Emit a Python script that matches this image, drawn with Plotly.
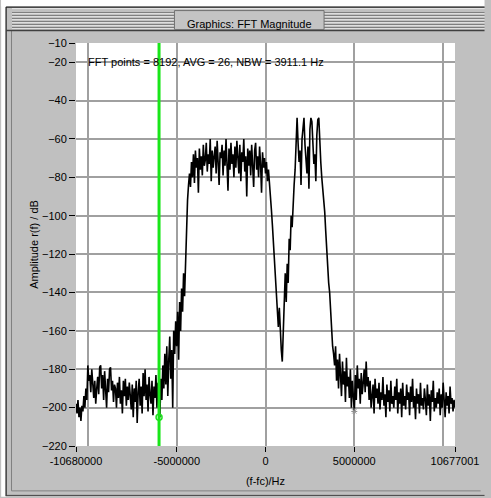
import numpy as np
import plotly.graph_objects as go

# --- data ---
F_MIN = -10680000
F_MAX = 10677001
CURSOR_F = -6000000
CURSOR_DB = -205
MARK_F = 5000000
MARK_DB = -202

floor_left = [-198, -203, -196, -205, -200, -207, -199, -202, -194, -200, -190, -196,
              -178, -186, -183, -192, -180, -189, -195, -186, -198, -190, -184, -193, -179,
              -178, -190, -183, -196, -181, -188, -200, -185, -192, -180, -179, -191, -186, -197, -188,
              -190, -200, -187, -195, -184, -198, -191, -203, -186, -194, -185, -199, -189, -196, -187,
              -193, -201, -188, -205, -190, -197, -186, -208, -192, -185, -199, -189, -203, -182, -194,
              -180, -196, -188, -202, -184, -193, -198, -186, -204, -189, -195, -183, -200, -187, -194,
              -205, -185, -196, -178, -190, -172, -188, -168, -194, -175, -163, -185, -170, -200, -160,
              -172, -155, -168, -150, -175, -145, -160, -138, -150, -130, -142]
rise_left = [-120, -105, -92, -84, -78, -85]
plateau = [-72, -80, -68, -83, -66, -75, -70, -88, -65, -76, -69, -79, -63, -74, -71,
           -62, -77, -68, -73, -60, -82, -66, -75, -69, -64, -78, -61, -72, -84, -67,
           -70, -63, -79, -66, -74, -60, -71, -87, -65, -76, -62, -73, -68, -80, -64,
           -75, -61, -70, -78, -63, -82, -67, -72, -60, -77, -69, -90, -65, -74, -66,
           -79, -63, -71, -85, -66, -62, -76, -69, -80, -64, -73, -88, -67, -75, -70,
           -78, -72, -82, -76, -85]
fall_dip = [-88, -97, -105, -115, -125, -135, -142, -150, -158, -148, -165, -170, -176]
rise_dip = [-160, -152, -130, -145, -125, -135, -112, -118, -100, -106, -92, -84]
peaks = [-76, -58, -49, -62, -72, -66, -84, -60, -52, -49, -63, -70, -78, -64, -86,
         -55, -49, -51, -66, -73, -68, -82, -58, -50, -49, -64, -72, -80, -85]
fall_right = [-90, -98, -108, -118, -125, -135, -140, -150, -160, -168, -172]
floor_right = [-178, -168, -186, -175, -190, -172, -183, -194, -176, -188, -181, -197, -174, -189, -184,
               -195, -180, -200, -186, -192, -202, -183, -196, -178, -190, -185, -198, -182, -193, -187,
               -180, -192, -176, -189, -184, -196, -186, -200, -191, -188, -203, -185, -195, -190, -198,
               -187, -201, -192, -196, -184, -199, -193, -205, -188, -197, -191, -202, -186, -198, -194,
               -200, -189, -196, -185, -203, -192, -198, -190, -205, -187, -199, -194, -201, -188, -196,
               -192, -204, -189, -197, -185, -200, -194, -206, -190, -198, -193, -203, -187, -199, -195,
               -201, -190, -196, -204, -188, -199, -193, -207, -191, -197, -186, -202, -195, -200, -192,
               -198, -190, -204, -193, -200, -187, -197, -205, -192, -199, -194, -203, -189, -198, -195,
               -202, -196, -200]

amp = floor_left + rise_left + plateau + fall_dip + rise_dip + peaks + fall_right + floor_right
freq = np.linspace(F_MIN, F_MAX, len(amp))

x_tickvals = [F_MIN, -5000000, 0, 5000000, F_MAX]
x_ticktext = ['-10680000', '-5000000', '0', '5000000', '10677001']
x_gridvals = [-10000000, -5000000, 0, 5000000, 10000000]
y_tickvals = [-10, -20, -40, -60, -80, -100, -120, -140, -160, -180, -200, -220]
stripe_rows = [12.5, 15.5, 18.5, 21.5, 24.5, 27.5]

FONT = 'Liberation Sans, Arial, sans-serif'

# pixel -> paper helpers (plot area is x 76..461, y 43..447)
def px(x):
    return (x - 76) / 385

def py(y):
    return (447 - y) / 404

def pline(x0, y0, x1, y1, color, width=1):
    return dict(type='line', xref='paper', yref='paper', x0=px(x0), x1=px(x1), y0=py(y0), y1=py(y1),
                line=dict(color=color, width=width), layer='above')

fig = go.Figure()
fig.add_trace(go.Scatter(x=freq, y=amp, mode='lines',
                         line=dict(color='black', width=1.6), showlegend=False))
fig.add_trace(go.Scatter(x=[CURSOR_F], y=[CURSOR_DB], mode='markers',
                         marker=dict(symbol='circle-open', size=6, color='#22e022',
                                     line=dict(width=1.5)), showlegend=False))
fig.add_trace(go.Scatter(x=[MARK_F], y=[MARK_DB], mode='markers',
                         marker=dict(symbol='asterisk-open', size=5, color='#909090',
                                     line=dict(width=1)), showlegend=False))

shapes = []
# white strip outside the window (top and left)
shapes.append(dict(type='rect', xref='paper', yref='paper', x0=px(0), x1=px(491), y0=py(6.5), y1=py(0),
                   fillcolor='white', line=dict(width=0), layer='below'))
shapes.append(dict(type='rect', xref='paper', yref='paper', x0=px(0), x1=px(4.5), y0=py(498), y1=py(0),
                   fillcolor='white', line=dict(width=0), layer='below'))
# title bar stripes
shapes.append(pline(11, 8.5, 491, 8.5, '#e8e8e8', 1))
for yy in stripe_rows:
    shapes.append(pline(11, yy, 491, yy, '#7c7c7c', 1))
    shapes.append(pline(11, yy + 1, 491, yy + 1, '#e0e0e0', 1))
# window frame lines
shapes.append(pline(5, 7, 491, 7, '#202020', 1.2))
shapes.append(pline(5, 7, 5, 497, '#202020', 1.2))
shapes.append(pline(5, 496.5, 491, 496.5, '#404040', 1))
shapes.append(pline(10.5, 31, 10.5, 492, '#808080', 1))
shapes.append(pline(10.5, 492, 487, 492, '#808080', 1))
shapes.append(pline(5, 30.5, 491, 30.5, '#404040', 1.5))
shapes.append(dict(type='rect', xref='paper', yref='paper', x0=px(176), x1=px(328), y0=py(29.5), y1=py(10.5),
                   fillcolor='#c4c4c4', line=dict(color='#707070', width=1), layer='above'))
# green cursor line
shapes.append(dict(type='line', xref='x', yref='paper', x0=CURSOR_F, x1=CURSOR_F, y0=0, y1=1,
                   line=dict(color='#19e619', width=3), layer='above'))

fig.update_layout(
    width=491, height=498,
    margin=dict(l=76, r=30, t=43, b=51),
    paper_bgcolor='#c0c0c0',
    plot_bgcolor='white',
    font=dict(family=FONT, size=11, color='black'),
    shapes=shapes,
    xaxis=dict(range=[F_MIN, F_MAX], tickvals=x_gridvals, showticklabels=False, ticks='',
               showgrid=True, gridcolor='#a0a0a0', gridwidth=1.5, zeroline=False, showline=False),
    xaxis2=dict(overlaying='x', matches='x', range=[F_MIN, F_MAX], side='bottom',
                tickvals=x_tickvals, ticktext=x_ticktext, ticks='outside', ticklen=5,
                tickcolor='black', showgrid=False, zeroline=False, showline=False,
                tickfont=dict(size=11),
                title=dict(text='(f-fc)/Hz', standoff=11, font=dict(size=11))),
    yaxis=dict(range=[-220, -10], tickvals=y_tickvals, ticks='outside', ticklen=6,
               tickcolor='black', showgrid=True, gridcolor='#a0a0a0', gridwidth=1.5,
               zeroline=False, showline=False, tickfont=dict(size=11),
               title=dict(text='Amplitude r(f) / dB', standoff=1, font=dict(size=11))),
    annotations=[
        dict(text='Graphics: FFT Magnitude', xref='paper', yref='paper', x=px(252), y=py(16),
             showarrow=False, font=dict(size=11)),
        dict(text='FFT points = 8192, AVG = 26, NBW = 3911.1 Hz', xref='paper', yref='paper',
             x=px(86), y=py(54), xanchor='left', showarrow=False, font=dict(size=11)),
    ],
)
fig.add_trace(go.Scatter(x=[F_MIN, F_MAX], y=[None, None], xaxis='x2', showlegend=False, hoverinfo='skip'))

fig.write_html("out.html", config={'displayModeBar': False},
               post_script="document.body.style.margin='0px';document.body.style.overflow='hidden';")
